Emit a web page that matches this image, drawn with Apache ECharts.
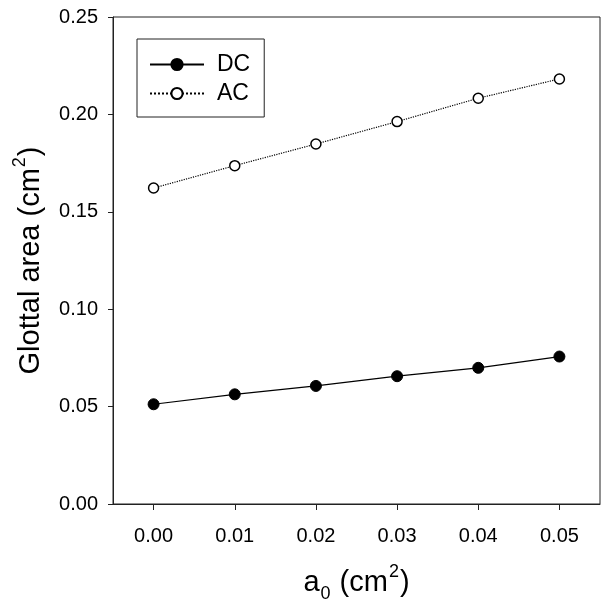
<!DOCTYPE html>
<html>
<head>
<meta charset="utf-8">
<script src="https://cdn.jsdelivr.net/npm/echarts@6/dist/echarts.min.js"></script>
<style>html,body{margin:0;padding:0;background:#fff}#c{width:609px;height:609px}</style>
</head>
<body>
<div id="c"></div>
<script>
const a0 = [0.00, 0.01, 0.02, 0.03, 0.04, 0.05];
const dcValues = [0.0512, 0.0563, 0.0606, 0.0656, 0.0699, 0.0757];
const acValues = [0.1622, 0.1737, 0.1848, 0.1963, 0.2083, 0.2182];
const xTicks = [0.00, 0.01, 0.02, 0.03, 0.04, 0.05];
const yTicks = [0.00, 0.05, 0.10, 0.15, 0.20, 0.25];

const FONT = 'Liberation Sans';
const chart = echarts.init(document.getElementById('c'), null, {renderer: 'canvas'});
const pair = (xs, ys) => xs.map((x, i) => [x, ys[i]]);
const titleRich = {
  t: {fontSize: 29, fontFamily: FONT, color: '#000', lineHeight: 34, verticalAlign: 'bottom'},
  sup: {fontSize: 18, fontFamily: FONT, color: '#000', lineHeight: 34, verticalAlign: 'top', padding: [0, 1, 0, 1]},
  sub: {fontSize: 18, fontFamily: FONT, color: '#000', lineHeight: 34, verticalAlign: 'bottom', padding: [0, 1, -6, 1]}
};
chart.setOption({
  animation: false,
  backgroundColor: '#fff',
  grid: {left: 113, top: 17, right: 9, bottom: 105, show: true, borderColor: '#222', borderWidth: 1, backgroundColor: 'transparent'},
  legend: {
    orient: 'vertical', left: 137, top: 39,
    padding: [14, 14, 12, 12],
    borderColor: '#222', borderWidth: 1,
    itemWidth: 54, itemHeight: 14, itemGap: 6,
    textStyle: {fontSize: 23, fontFamily: FONT, color: '#000', lineHeight: 23, padding: [0, 0, 0, 8]},
    data: ['DC', 'AC']
  },
  xAxis: {
    type: 'value', min: -0.005, max: 0.055,
    name: '{t|a}{sub|0}{t| (cm}{sup|2}{t|)}', nameLocation: 'middle', nameGap: 59, nameMoveOverlap: false,
    nameTextStyle: {rich: titleRich},
    axisLine: {show: true, onZero: false, lineStyle: {color: '#222', width: 1}},
    axisTick: {show: true, inside: false, length: 6, customValues: xTicks, lineStyle: {color: '#222'}},
    axisLabel: {customValues: xTicks, formatter: v => v.toFixed(2), fontSize: 20, fontFamily: FONT, color: '#000', margin: 22},
    splitLine: {show: false}
  },
  yAxis: {
    type: 'value', min: 0, max: 0.25, interval: 0.05,
    name: '{t|Glottal area (cm}{sup|2}{t|)}', nameLocation: 'middle', nameGap: 68, nameMoveOverlap: false,
    nameTextStyle: {rich: titleRich},
    axisLine: {show: true, onZero: false, lineStyle: {color: '#222', width: 1}},
    axisTick: {show: true, inside: false, length: 5, lineStyle: {color: '#222'}},
    axisLabel: {formatter: v => v.toFixed(2), fontSize: 20, fontFamily: FONT, color: '#000', margin: 15},
    splitLine: {show: false}
  },
  series: [
    {
      name: 'DC', type: 'line', data: pair(a0, dcValues),
      symbol: 'circle', symbolSize: 11,
      lineStyle: {color: '#000', width: 1.2, type: 'solid'},
      itemStyle: {color: '#000', borderColor: '#000', borderWidth: 1}
    },
    {
      name: 'AC', type: 'line', data: pair(a0, acValues),
      symbol: 'circle', symbolSize: 10,
      lineStyle: {color: '#000', width: 1.2, type: 'dotted'},
      itemStyle: {color: '#fff', borderColor: '#000', borderWidth: 1.5}
    }
  ]
});
</script>
</body>
</html>
